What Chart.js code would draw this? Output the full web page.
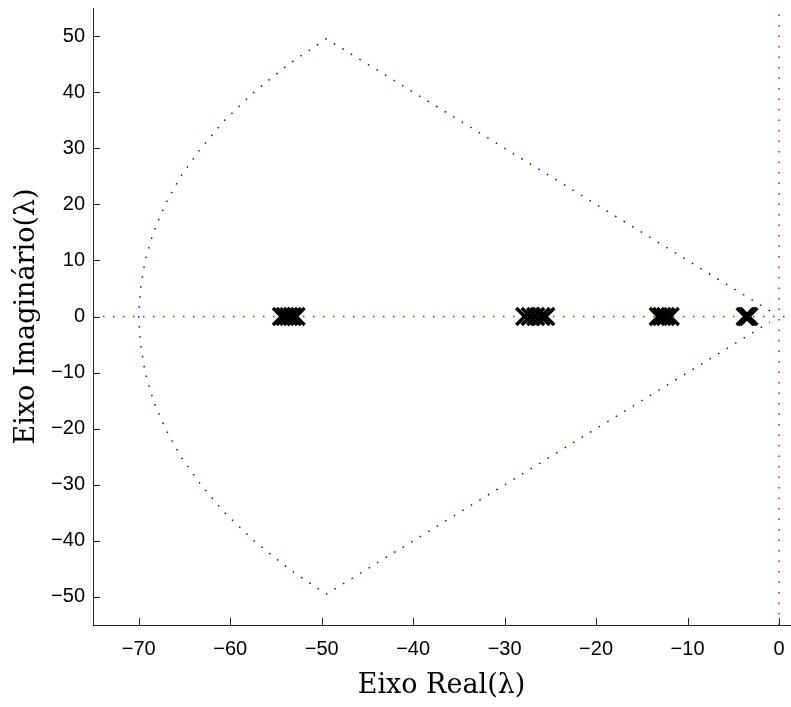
<!DOCTYPE html>
<html lang="pt">
<head>
<meta charset="utf-8">
<title>Autovalores</title>
<script src="https://cdn.jsdelivr.net/npm/chart.js@4.4.1/dist/chart.umd.min.js"></script>
<style>
    html, body { margin: 0; padding: 0; background: #fff; }
    #caixa { width: 791px; height: 707px; }
</style>
</head>
<body>
<div id="caixa"><canvas id="graficoPolos" width="791" height="707"></canvas></div>
<script>
// eixos
const ticksReais = [-70, -60, -50, -40, -30, -20, -10, 0];
const ticksImag = [-50, -40, -30, -20, -10, 0, 10, 20, 30, 40, 50];

// autovalores (marcados com x)
const polosReais = [-54.4, -54.0, -53.6, -53.2, -52.8,
                    -27.8, -27.2, -26.6, -26.0, -25.5,
                    -13.2, -12.8, -12.4, -11.9,
                    -3.7, -3.5, -3.3];
const polosImag = [0, 0, 0, 0, 0, 0, 0, 0, 0, 0, 0, 0, 0, 0, 0, 0, 0];

// fronteira da regiao (azul pontilhado)
const fronteiraX = [-1, -49.5, -53.6, -57.4, -60.6, -63.2, -65.4, -67.1, -68.4, -69.3, -69.8, -70,
                    -69.8, -69.3, -68.4, -67.1, -65.4, -63.2, -60.6, -57.4, -53.6, -49.5, -1];
const fronteiraY = [1, 49.5, 45, 40, 35, 30, 25, 20, 15, 10, 5, 0,
                    -5, -10, -15, -20, -25, -30, -35, -40, -45, -49.5, -1];

// eixos de referencia (vermelho pontilhado)
const eixoHorizX = [-75, 1.2];
const eixoHorizY = [0, 0];
const eixoVertX = [0, 0];
const eixoVertY = [-55, 55];

const juntar = (xs, ys) => xs.map((v, i) => ({ x: v, y: ys[i] }));
const menos = v => String(v).replace('-', '\u2212');

const ticksParaDentro = {
    id: 'ticksParaDentro',
    afterDraw(chart) {
        const { ctx, chartArea, scales } = chart;
        ctx.save();
        ctx.strokeStyle = '#222';
        ctx.lineWidth = 1;
        ctx.beginPath();
        scales.x.ticks.forEach(t => {
            const px = Math.round(scales.x.getPixelForValue(t.value)) + 0.5;
            ctx.moveTo(px, chartArea.bottom);
            ctx.lineTo(px, chartArea.bottom - 7);
        });
        scales.y.ticks.forEach(t => {
            const py = Math.round(scales.y.getPixelForValue(t.value)) + 0.5;
            ctx.moveTo(chartArea.left, py);
            ctx.lineTo(chartArea.left + 7, py);
        });
        ctx.stroke();
        ctx.restore();
    }
};

const ctx = document.getElementById('graficoPolos').getContext('2d');
new Chart(ctx, {
    type: 'scatter',
    data: {
        datasets: [
            {
                label: 'Autovalores',
                data: juntar(polosReais, polosImag),
                pointStyle: 'crossRot',
                pointRadius: 12,
                pointBorderWidth: 3.5,
                borderColor: '#000',
                backgroundColor: '#000',
                order: 0
            },
            {
                label: 'Fronteira',
                data: juntar(fronteiraX, fronteiraY),
                showLine: true,
                pointRadius: 0,
                borderColor: '#0000ff',
                borderWidth: 1.5,
                borderDash: [1.5, 8.5],
                tension: 0,
                order: 2
            },
            {
                label: 'Eixo real',
                data: juntar(eixoHorizX, eixoHorizY),
                showLine: true,
                pointRadius: 0,
                borderColor: '#ff0000',
                borderWidth: 1.5,
                borderDash: [1.5, 8.5],
                order: 3
            },
            {
                label: 'Eixo imaginario',
                data: juntar(eixoVertX, eixoVertY),
                showLine: true,
                pointRadius: 0,
                borderColor: '#ff0000',
                borderWidth: 1.5,
                borderDash: [1.5, 9],
                order: 3
            }
        ]
    },
    options: {
        responsive: false,
        animation: false,
        layout: { autoPadding: false, padding: { top: 8, right: 1, left: 0, bottom: 0 } },
        plugins: {
            legend: { display: false },
            tooltip: { enabled: false }
        },
        scales: {
            x: {
                type: 'linear',
                min: -75,
                max: 1.2,
                afterBuildTicks: s => { s.ticks = ticksReais.map(v => ({ value: v })); },
                afterFit: s => { s.height = 82; s.paddingLeft = 0; s.paddingRight = 0; },
                grid: { display: false, drawTicks: false },
                border: { display: true, color: '#222', width: 1 },
                ticks: {
                    padding: 12,
                    color: '#000',
                    font: { family: 'Liberation Sans', size: 20 },
                    callback: v => menos(v)
                },
                title: {
                    display: true,
                    text: 'Eixo Real(λ)',
                    color: '#000',
                    font: { family: 'DejaVu Serif', size: 27 },
                    padding: { top: 0, bottom: 5 }
                }
            },
            y: {
                type: 'linear',
                min: -55,
                max: 55,
                afterBuildTicks: s => { s.ticks = ticksImag.map(v => ({ value: v })); },
                afterFit: s => { s.width = 93; s.paddingTop = 0; s.paddingBottom = 0; },
                grid: { display: false, drawTicks: false },
                border: { display: true, color: '#222', width: 1 },
                ticks: {
                    padding: 8,
                    color: '#000',
                    font: { family: 'Liberation Sans', size: 20 },
                    callback: v => menos(v)
                },
                title: {
                    display: true,
                    text: 'Eixo Imaginário(λ)',
                    color: '#000',
                    font: { family: 'DejaVu Serif', size: 27 },
                    padding: { top: 11, bottom: 0 }
                }
            }
        }
    },
    plugins: [ticksParaDentro]
});
</script>
</body>
</html>
